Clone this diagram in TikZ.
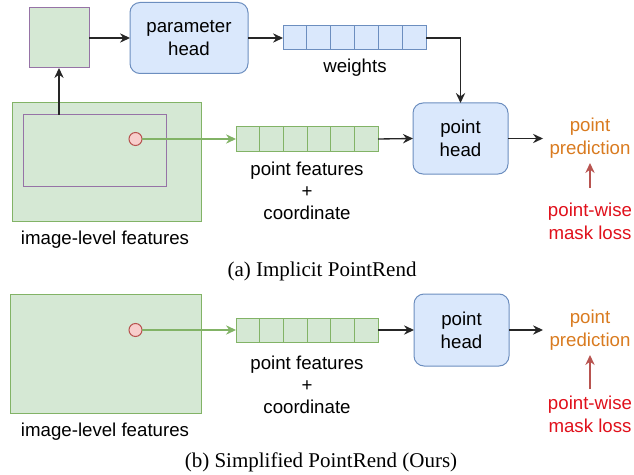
\documentclass[tikz,border=0pt]{standalone}
\usepackage{fontspec}
\setmainfont{Liberation Serif}
\newfontfamily\arialf{Liberation Sans}
\usetikzlibrary{arrows.meta,calc}
\definecolor{gfill}{HTML}{D5E8D4}
\definecolor{gdraw}{HTML}{82B366}
\definecolor{bfill}{HTML}{DAE8FC}
\definecolor{bdraw}{HTML}{6C8EBF}
\definecolor{pdraw}{HTML}{9673A6}
\definecolor{rfill}{HTML}{F8CECC}
\definecolor{rdraw}{HTML}{B85450}
\definecolor{predc}{HTML}{D97B20}
\definecolor{lossc}{HTML}{E0101B}
\tikzset{
  base/.style={inner sep=0pt, outer sep=0pt, line width=0.75pt},
  gbox/.style={base, draw=gdraw, fill=gfill},
  pbox/.style={base, draw=pdraw, fill=gfill},
  headbox/.style={base, draw=bdraw, fill=bfill, rounded corners=7.5pt, minimum width=71.25pt, minimum height=53.25pt, align=center, font=\arialf\fontsize{14}{17}\selectfont},
  warr/.style={base, draw=bdraw, fill=bfill, minimum width=107.25pt, minimum height=18pt},
  farr/.style={base, draw=gdraw, fill=gfill, minimum width=106.5pt, minimum height=18pt},
  dotn/.style={base, circle, draw=rdraw, fill=rfill, minimum size=9.75pt},
  lbl/.style={inner sep=0pt, align=center, font=\arialf\fontsize{14}{16.5}\selectfont},
  predl/.style={lbl, text=predc, font=\arialf\fontsize{14}{17.25}\selectfont},
  lossl/.style={lbl, text=lossc, font=\arialf\fontsize{14}{17.25}\selectfont},
  capl/.style={inner sep=0pt, font=\fontsize{15.75}{18}\selectfont},
  arr/.style={line width=1pt, draw=black!85, -{Stealth[length=7.5pt,width=7pt,inset=2.5pt]}},
  garr/.style={line width=1pt, draw=gdraw, -{Stealth[length=7.5pt,width=7pt,inset=2.5pt]}},
  rarr/.style={line width=1pt, draw=rdraw, -{Stealth[length=7.5pt,width=7pt,inset=2.5pt]}},
}
\begin{document}
\begin{tikzpicture}[x=0.75pt,y=-0.75pt]
\useasboundingbox (0,0) rectangle (634,474);
% ---- (a) ----
\node[pbox, minimum width=45pt, minimum height=45pt] (sq) at (59,38) {};
\node[headbox, minimum width=88.5pt] (ph) at (189,38) {parameter\\head};
\node[warr] (wt) at (354.5,38) {};
\foreach \i in {1,...,5}{\draw[bdraw, line width=0.75pt] ($(wt.south west)!\i/6!(wt.south east)$) -- ($(wt.north west)!\i/6!(wt.north east)$);}
\node[lbl] (wtl) at (355,68) {weights};
\node[gbox, minimum width=141.75pt, minimum height=88.5pt] (img) at (106.5,162) {};
\node[pbox, minimum width=107.25pt, minimum height=53.25pt] (inner) at (94.5,150.5) {};
\node[dotn] (dot) at (135.5,139) {};
\node[farr] (pf) at (307,139) {};
\foreach \i in {1,...,5}{\draw[gdraw, line width=0.75pt] ($(pf.south west)!\i/6!(pf.south east)$) -- ($(pf.north west)!\i/6!(pf.north east)$);}
\node[lbl] (pfl) at (307,191) {point features\\+\\coordinate};
\node[headbox] (pth) at (460.5,138.5) {point\\head};
\coordinate (pe) at (543,138.5);
\node[predl] (pred) at (590,138.5) {point\\prediction};
\node[lossl] (loss) at (590,221.5) {point-wise\\mask loss};
\node[lbl] (imgl) at (105,240) {image-level features};
\node[capl] (capa) at (322,271) {(a) Implicit PointRend};
\draw[arr] (sq.east) -- (ph.west);
\draw[arr] (ph.east) -- (wt.west);
\draw[arr] (inner.north -| sq.south) -- (sq.south);
\draw[garr] (dot.east) -- (pf.west);
\draw[arr] (pf.east) -- (pth.west);
\draw[arr] (wt.east) -| (pth.north);
\draw[arr] (pth.east) -- (pe);
\draw[rarr] ($(loss.center)+(0,-33.5)$) -- ($(pred.center)+(0,24.5)$);
% ---- (b) ----
\node[gbox, minimum width=143.25pt, minimum height=89.25pt] (img2) at (105.5,353.5) {};
\node[dotn] (dot2) at (135.5,330) {};
\node[farr] (pf2) at (307,330) {};
\foreach \i in {1,...,5}{\draw[gdraw, line width=0.75pt] ($(pf2.south west)!\i/6!(pf2.south east)$) -- ($(pf2.north west)!\i/6!(pf2.north east)$);}
\node[lbl] (pfl2) at (307,385) {point features\\+\\coordinate};
\node[headbox, minimum height=54pt] (pth2) at (461.5,330) {point\\head};
\coordinate (pe2) at (543,330);
\node[predl] (pred2) at (590,330) {point\\prediction};
\node[lossl] (loss2) at (590,414) {point-wise\\mask loss};
\node[lbl] (imgl2) at (105,432) {image-level features};
\node[capl] (capb) at (321,462) {(b) Simplified PointRend (Ours)};
\draw[garr] (dot2.east) -- (pf2.west);
\draw[arr] (pf2.east) -- (pth2.west);
\draw[arr] (pth2.east) -- (pe2);
\draw[rarr] ($(loss2.center)+(0,-25)$) -- ($(pred2.center)+(0,25)$);
\end{tikzpicture}
\end{document}
